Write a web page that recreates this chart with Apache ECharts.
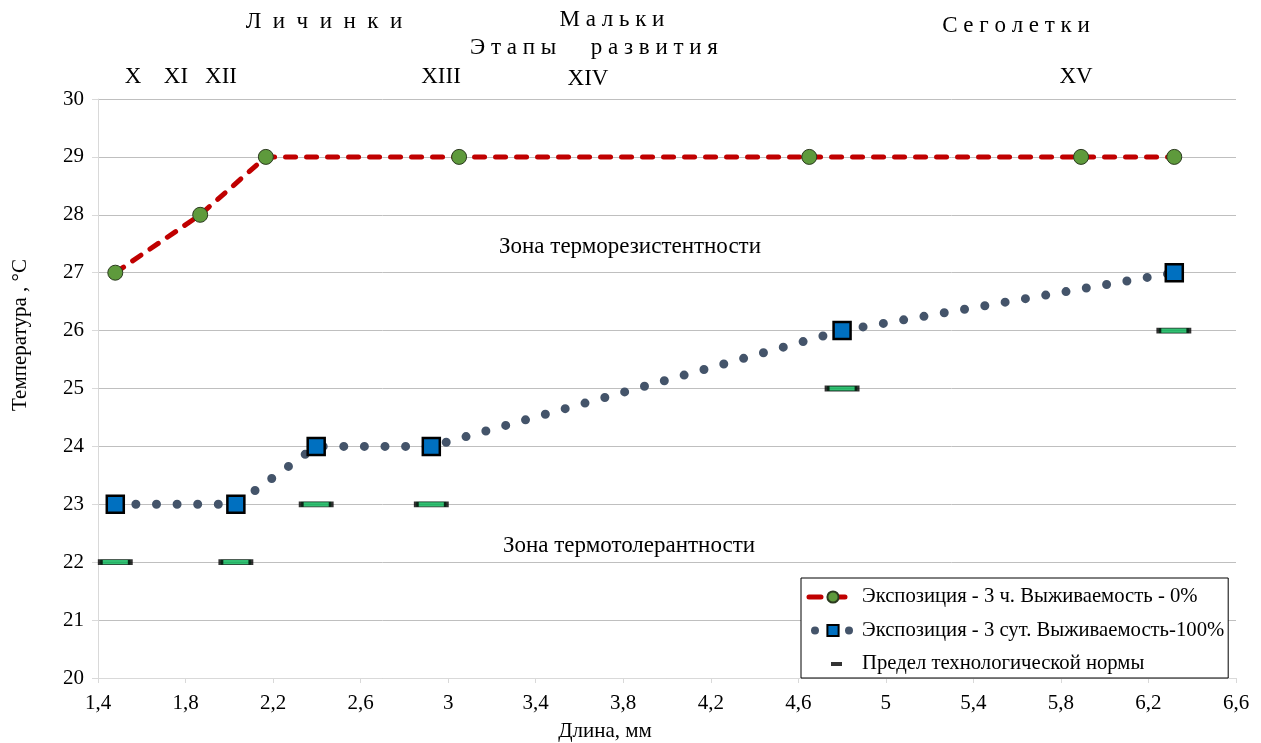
<!DOCTYPE html>
<html><head><meta charset="utf-8">
<script src="https://cdn.jsdelivr.net/npm/echarts@6/dist/echarts.min.js"></script>
<style>html,body{margin:0;padding:0;background:#fff}#c{width:1261px;height:743px}</style>
</head><body><div id="c"></div>
<script>
// ---- data ----
const xTicks = [1.4, 1.8, 2.2, 2.6, 3.0, 3.4, 3.8, 4.2, 4.6, 5.0, 5.4, 5.8, 6.2, 6.6];
const seriesNames = ['Экспозиция - 3 ч. Выживаемость - 0%', 'Экспозиция - 3 сут. Выживаемость-100%', 'Предел технологической нормы'];
const lethalX = [1.479, 1.867, 2.167, 3.05, 4.65, 5.892, 6.318];
const lethalY = [27, 28, 29, 29, 29, 29, 29];
const survX = [1.479, 2.03, 2.397, 2.923, 4.80, 6.318];
const survY = [23, 23, 24, 24, 26, 27];
const normX = [1.479, 2.03, 2.397, 2.923, 4.80, 6.316];
const normY = [22, 22, 23, 23, 25, 26];
const stageGroups = ['Л  и  ч  и  н  к  и', 'М а л ь к и', 'Э т а п ы      р а з в и т и я', 'С е г о л е т к и'];
const stageNumerals = ['X', 'XI', 'XII', 'XIII', 'XIV', 'XV'];
const zoneLabels = ['Зона терморезистентности', 'Зона термотолерантности'];
const axisTitles = ['Длина, мм', 'Температура , °С'];

// ---- layout ----
const FONT = '"Liberation Serif", "Times New Roman", serif';
const groupPos = [[324, 22], [612, 20], [594, 48], [1016, 26]];
const numeralPos = [[133, 77], [176, 77], [221, 77], [441, 77], [588, 79], [1076, 77]];
const zonePos = [[630, 247], [629, 546]];

const zip = (a, b) => a.map((v, i) => [v, b[i]]);
const txt = (s, x, y, size, extra) => Object.assign({
  type: 'text', x: x, y: y,
  style: { text: s, fill: '#000', font: size + 'px ' + FONT, textAlign: 'center', textVerticalAlign: 'middle' }
}, extra || {});

const graphics = [];
stageGroups.forEach((s, i) => graphics.push(txt(s, groupPos[i][0], groupPos[i][1], 23)));
stageNumerals.forEach((s, i) => graphics.push(txt(s, numeralPos[i][0], numeralPos[i][1], 23)));
zoneLabels.forEach((s, i) => graphics.push(txt(s, zonePos[i][0], zonePos[i][1], 23)));
graphics.push(txt(axisTitles[0], 605, 731, 21));
graphics.push(txt(axisTitles[1], 20, 335, 21, { rotation: Math.PI / 2 }));

const chart = echarts.init(document.getElementById('c'), null, { renderer: 'canvas' });
chart.setOption({
  animation: false,
  backgroundColor: '#fff',
  textStyle: { fontFamily: FONT },
  grid: { left: 98, right: 25, top: 99, bottom: 65, containLabel: false },
  xAxis: {
    type: 'value', min: 1.4, max: 6.6,
    axisLine: { show: true, onZero: false, lineStyle: { color: '#D9D9D9', width: 1 } },
    axisTick: { show: true, customValues: xTicks, length: 5, lineStyle: { color: '#D9D9D9' } },
    axisLabel: {
      customValues: xTicks, color: '#000', fontSize: 21, fontFamily: FONT, margin: 15,
      formatter: v => String(+(+v).toFixed(1)).replace('.', ',')
    },
    splitLine: { show: false }
  },
  yAxis: {
    type: 'value', min: 20, max: 30, interval: 1,
    axisLine: { show: true, lineStyle: { color: '#D9D9D9', width: 1 } },
    axisTick: { show: true, length: 6, lineStyle: { color: '#D9D9D9' } },
    axisLabel: { color: '#000', fontSize: 21, fontFamily: FONT, margin: 14 },
    splitLine: { show: true, lineStyle: { color: '#BFBFBF', width: 1 } }
  },
  legend: {
    orient: 'vertical', left: 801, top: 578,
    padding: [8, 4, 3, 4], itemGap: 11.5, itemWidth: 48, itemHeight: 14,
    borderColor: '#000', borderWidth: 1, backgroundColor: '#fff',
    selectedMode: false,
    textStyle: { fontSize: 20.7, color: '#000', fontFamily: FONT, lineHeight: 22 },
    data: [
      { name: seriesNames[0], lineStyle: { width: 5, type: [12, 12], cap: 'round' } },
      { name: seriesNames[1], lineStyle: { width: 8, type: [0, 34], dashOffset: -6, cap: 'round' } },
      { name: seriesNames[2], icon: 'path://M0,0M48,14M22,5h11v4h-11z', itemStyle: { color: '#000', borderWidth: 0 } }
    ]
  },
  series: [
    {
      name: seriesNames[0], type: 'line', data: zip(lethalX, lethalY), z: 3,
      symbol: 'circle', symbolSize: 15, showSymbol: true,
      itemStyle: { color: '#5E9A3C', borderColor: '#2B3A1F', borderWidth: 1 },
      lineStyle: { color: '#C00000', width: 5, type: [10, 11], cap: 'round' },
      emphasis: { disabled: true }
    },
    {
      name: seriesNames[1], type: 'line', data: zip(survX, survY), z: 3,
      smooth: false,
      symbol: 'rect', symbolSize: 17, showSymbol: true,
      itemStyle: { color: '#0070C0', borderColor: '#000', borderWidth: 2.5 },
      lineStyle: { color: '#44546A', width: 9, type: [0, 20.6], cap: 'round' },
      emphasis: { disabled: true }
    },
    {
      name: seriesNames[2], type: 'scatter', data: zip(normX, normY), z: 4,
      symbol: 'rect', symbolSize: [30, 5],
      itemStyle: { color: '#00B050', borderColor: '#000', borderWidth: 2 },
      emphasis: { disabled: true }
    }
  ],
  graphic: graphics
});
</script>
</body></html>
